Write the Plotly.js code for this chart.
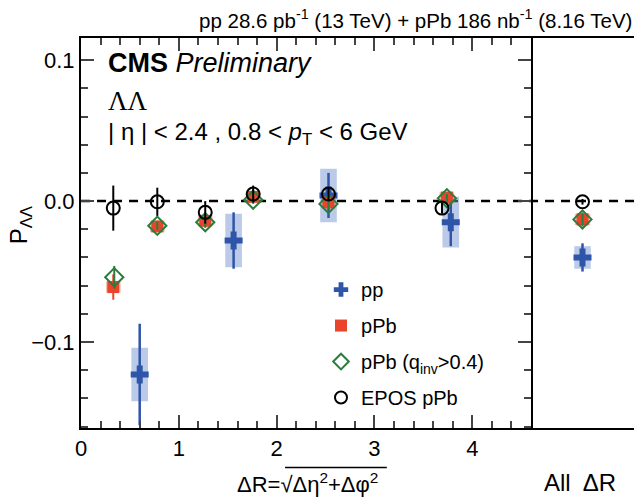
<!DOCTYPE html>
<html><head><meta charset="utf-8">
<script src="https://cdn.plot.ly/plotly-3.0.1.min.js"></script>
<style>html,body{margin:0;padding:0;background:#fff}</style>
</head><body>
<div id="chart" style="width:634px;height:501px"></div>
<script>
// ---- data ----
// pp
var ppX    = [0.60, 1.56, 2.53, 3.78];
var ppY    = [-0.123, -0.028, 0.004, -0.015];
var ppErr  = [0.036, 0.020, 0.016, 0.017];
var ppSys  = [0.019, 0.019, 0.019, 0.018];
// pPb
var pPbX   = [0.33, 0.78, 1.27, 1.76, 2.53, 3.74];
var pPbY   = [-0.061, -0.018, -0.014, 0.003, -0.001, 0.0025];
var pPbErr = [0.009, 0.004, 0.004, 0.004, 0.004, 0.004];
var pPbSys = [0.004, 0.004, 0.004, 0.003, 0.004, 0.004];
// pPb (q_inv > 0.4)
var qX     = [0.34, 0.78, 1.27, 1.76, 2.53, 3.74];
var qY     = [-0.054, -0.0175, -0.015, 0.001, -0.002, 0.002];
var qErr   = [0.008, 0.003, 0.004, 0.003, 0.004, 0.003];
// EPOS pPb
var eposX  = [0.33, 0.78, 1.27, 1.76, 2.53, 3.69];
var eposY  = [-0.005, -0.0005, -0.008, 0.005, 0.005, -0.005];
var eposErr= [0.016, 0.010, 0.008, 0.006, 0.005, 0.004];
// All ΔR panel
var allX      = [0.5];
var allPpY    = [-0.040], allPpErr = [0.010], allPpSys = [0.008];
var allPPbY   = [-0.013], allPPbErr = [0.003], allPPbSys = [0.004];
var allQY     = [-0.013], allQErr = [0.005];
var allEposY  = [-0.0005], allEposErr = [0.002];

var seriesNames = ['pp', 'pPb', 'pPb (q<sub>inv</sub>>0.4)', 'EPOS pPb'];
var xTickVals = [0, 1, 2, 3, 4];
var yTickVals = [-0.1, 0.0, 0.1];

// ---- styles ----
var FONT = 'Liberation Sans, Arial, Helvetica, sans-serif';
var cBlue = '#2f55a8', cBlueBox = 'rgba(120,150,210,0.5)';
var cRed = '#e8452c', cRedBox = 'rgba(240,130,110,0.5)';
var cGreen = '#2a7d3c', cBlack = '#000';

function boxes(xs, ys, sys, hw, color, xref) {
  return xs.map(function (x, i) {
    return {type: 'rect', xref: xref, yref: 'y', x0: x - hw, x1: x + hw,
      y0: ys[i] - sys[i], y1: ys[i] + sys[i], fillcolor: color,
      line: {width: 0}, layer: 'below'};
  });
}

var shapes = [].concat(
  boxes(ppX, ppY, ppSys, 0.085, cBlueBox, 'x'),
  boxes(pPbX, pPbY, pPbSys, 0.075, cRedBox, 'x'),
  boxes(allX, allPpY, allPpSys, 0.08, cBlueBox, 'x2'),
  boxes(allX, allPPbY, allPPbSys, 0.075, cRedBox, 'x2')
);
// dashed zero line across both panels
shapes.push({type: 'line', xref: 'paper', yref: 'y', x0: 0, x1: 1, y0: 0, y1: 0,
  line: {color: '#000', width: 2.5, dash: '9px,7px'}, layer: 'below'});
// overline of the square root in x title
shapes.push({type: 'line', xref: 'paper', yref: 'paper', x0: 0.369, x1: 0.553,
  y0: -0.101, y1: -0.101, line: {color: '#000', width: 1.5}});

function tr(name, xs, ys, errs, marker, errColor, errThick, xa, show, grp) {
  return {type: 'scatter', mode: 'markers', name: name, x: xs, y: ys,
    xaxis: xa, yaxis: xa === 'x' ? 'y' : 'y2', showlegend: show, legendgroup: grp,
    marker: marker,
    error_y: {type: 'data', array: errs, visible: true, width: 0,
      thickness: errThick, color: errColor}};
}
var mPp = {symbol: 'cross', size: 15, color: cBlue, line: {width: 0}};
var mPPb = {symbol: 'square', size: 12, color: cRed, line: {width: 0}};
var mQ = {symbol: 'diamond-open', size: 14, color: cGreen, line: {width: 2, color: cGreen}};
var mE = {symbol: 'circle-open', size: 13, color: cBlack, line: {width: 2, color: cBlack}};

var data = [
  tr(seriesNames[0], ppX, ppY, ppErr, mPp, cBlue, 2.5, 'x', true, 'g1'),
  tr(seriesNames[1], pPbX, pPbY, pPbErr, mPPb, cRed, 2, 'x', true, 'g2'),
  tr(seriesNames[2], qX, qY, qErr, mQ, cGreen, 2, 'x', true, 'g3'),
  tr(seriesNames[3], eposX, eposY, eposErr, mE, cBlack, 2, 'x', true, 'g4'),
  tr(seriesNames[0], allX, allPpY, allPpErr, mPp, cBlue, 2.5, 'x2', false, 'g1'),
  tr(seriesNames[1], allX, allPPbY, allPPbErr, mPPb, cRed, 2, 'x2', false, 'g2'),
  tr(seriesNames[2], allX, allQY, allQErr, mQ, cGreen, 2, 'x2', false, 'g3'),
  tr(seriesNames[3], allX, allEposY, allEposErr, mE, cBlack, 2, 'x2', false, 'g4')
];

var splitX = 450 / 553;
var yRange = [-0.161, 0.1157];

var layout = {
  width: 634, height: 501,
  margin: {l: 81, r: 0, t: 38, b: 73, pad: 0},
  paper_bgcolor: '#fff', plot_bgcolor: '#fff',
  font: {family: FONT, size: 20, color: '#000'},
  showlegend: true,
  legend: {x: 0.434, y: 0.405, xanchor: 'left', yanchor: 'top',
    bgcolor: 'rgba(0,0,0,0)', font: {family: FONT, size: 20},
    tracegroupgap: 7, itemsizing: 'constant'},
  xaxis: {domain: [0, splitX], range: [0, 4.6], anchor: 'y',
    tickvals: xTickVals, ticktext: xTickVals.map(String), ticks: 'inside', ticklen: 13, tickwidth: 2,
    minor: {dtick: 0.2, tick0: 0, ticks: 'inside', ticklen: 7, tickwidth: 2},
    showline: true, linewidth: 2, linecolor: '#000', mirror: 'ticks',
    showgrid: false, zeroline: false, tickfont: {size: 22}},
  xaxis2: {domain: [splitX, 1], range: [0, 1], anchor: 'y2',
    showticklabels: false, ticks: '', showline: true, linewidth: 2, linecolor: '#000',
    mirror: true, showgrid: false, zeroline: false},
  yaxis: {range: yRange, anchor: 'x', tickvals: yTickVals, tickformat: '.1f',
    ticks: 'inside', ticklen: 13, tickwidth: 2,
    minor: {dtick: 0.02, tick0: 0, ticks: 'inside', ticklen: 7, tickwidth: 2},
    showline: true, linewidth: 2, linecolor: '#000', mirror: 'ticks',
    showgrid: false, zeroline: false, tickfont: {size: 22}},
  yaxis2: {range: yRange, anchor: 'x2', showticklabels: false, ticks: '',
    showline: false, showgrid: false, zeroline: false},
  shapes: shapes,
  annotations: [
    {xref: 'paper', yref: 'paper', x: 1, y: 1.049, xanchor: 'right', yanchor: 'middle',
      text: 'pp 28.6 pb<sup>-1</sup> (13 TeV) + pPb 186 nb<sup>-1</sup> (8.16 TeV)',
      showarrow: false, font: {size: 20.5}},
    {xref: 'paper', yref: 'paper', x: 0.045, y: 0.936, xanchor: 'left', yanchor: 'middle',
      text: '<b>CMS</b> <i>Preliminary</i>', showarrow: false, font: {size: 27}},
    {xref: 'paper', yref: 'paper', x: 0.045, y: 0.839, xanchor: 'left', yanchor: 'middle',
      text: 'ΛΛ', showarrow: false, font: {family: 'Liberation Serif, Times New Roman, serif', size: 27}},
    {xref: 'paper', yref: 'paper', x: 0.045, y: 0.756, xanchor: 'left', yanchor: 'middle',
      text: '| η | < 2.4 , 0.8 < <i>p</i><sub>T</sub> < 6 GeV', showarrow: false, font: {size: 24}},
    {xref: 'paper', yref: 'paper', x: 0.409, y: -0.141, xanchor: 'center', yanchor: 'middle',
      text: 'ΔR=√Δη<sup>2</sup>+Δφ<sup>2</sup>', showarrow: false, font: {size: 22}},
    {xref: 'paper', yref: 'paper', x: 0.903, y: -0.141, xanchor: 'center', yanchor: 'middle',
      text: 'All\u2002ΔR', showarrow: false, font: {size: 24}},
    {xref: 'paper', yref: 'paper', x: -0.11, y: 0.52, xanchor: 'center', yanchor: 'middle',
      text: 'P<sub>ΛΛ</sub>', textangle: -90, showarrow: false, font: {size: 24}}
  ]
};

Plotly.newPlot('chart', data, layout, {displayModeBar: false, staticPlot: true});
</script>
</body></html>
